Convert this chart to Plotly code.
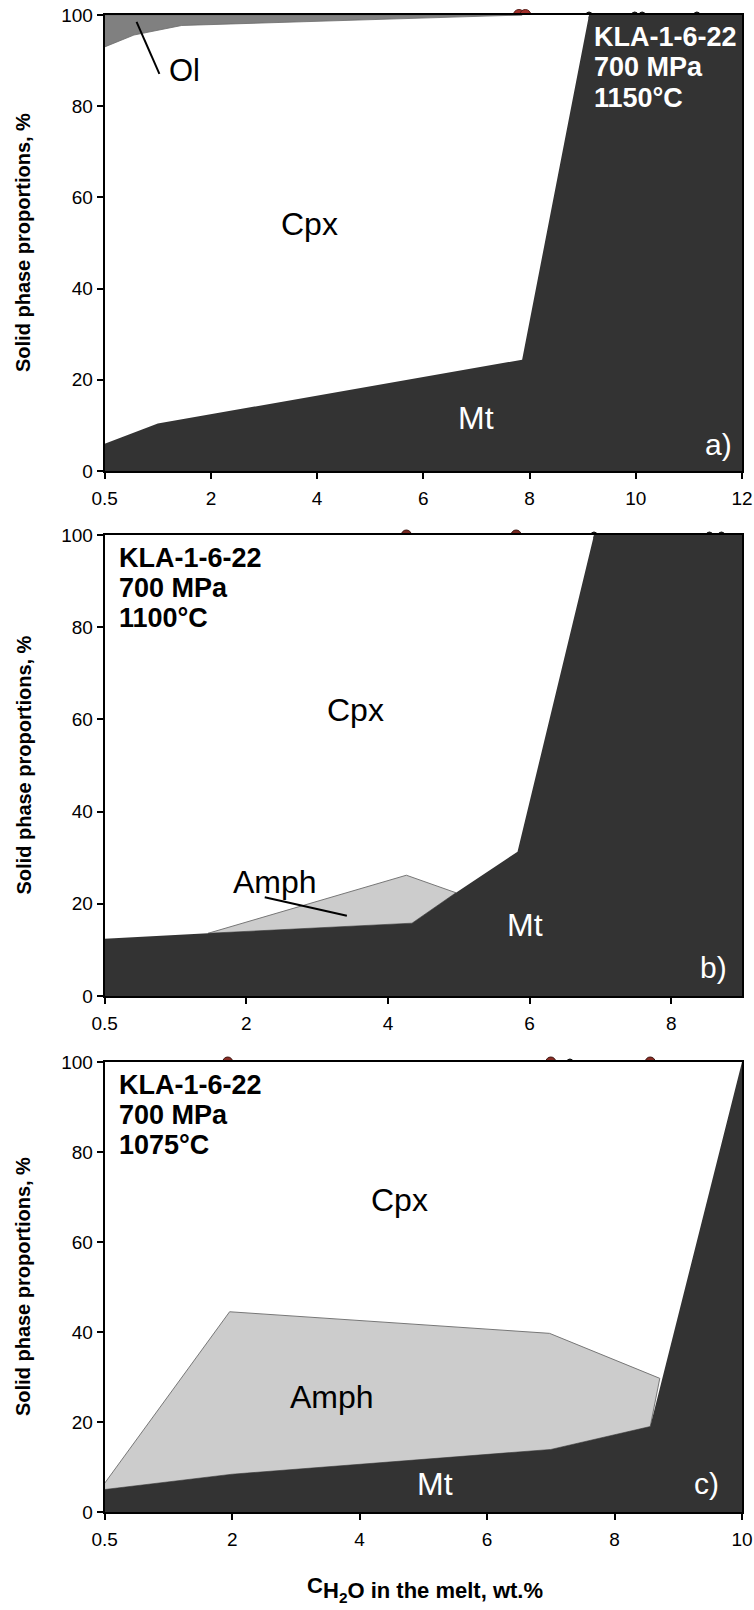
import plotly.graph_objects as go

# ---- water content axis (tick positions / labels) ----
a_ticks = [0, 2, 4, 6, 8, 10, 12]
a_ticktext = ["0.5", "2", "4", "6", "8", "10", "12"]
b_ticks = [0, 2, 4, 6, 8]
b_ticktext = ["0.5", "2", "4", "6", "8"]
c_ticks = [0, 2, 4, 6, 8, 10]
c_ticktext = ["0.5", "2", "4", "6", "8", "10"]
y_ticks = [0, 20, 40, 60, 80, 100]

# ---- panel a: 1150 °C ----
a_mt_x = [0, 1.0, 7.86, 9.12, 12]
a_mt_y = [6.0, 10.4, 24.4, 100, 100]
a_ol_x = [0, 0.55, 1.45, 7.86]
a_ol_y = [93.0, 95.6, 97.7, 100]
a_red_x = [7.80, 7.92]
a_blk_x = [9.12, 9.98, 10.12, 11.15]

# ---- panel b: 1100 °C ----
b_mt_x = [0, 1.46, 4.34, 4.96, 5.83, 6.91, 9]
b_mt_y = [12.4, 13.6, 15.8, 22.4, 31.3, 100, 100]
b_amph_x = [1.46, 4.26, 4.96]
b_amph_y = [13.6, 26.2, 22.4]
b_red_x = [4.26, 5.81]
b_blk_x = [6.91, 8.54, 8.71]

# ---- panel c: 1075 °C ----
c_mt_x = [0, 2.0, 7.0, 8.56, 10]
c_mt_y = [5.0, 8.4, 13.9, 19.0, 100]
c_amph_x = [0, 1.96, 6.98, 8.71]
c_amph_y = [6.4, 44.5, 39.7, 29.7]
c_red_x = [1.93, 7.0, 8.56]
c_blk_x = [7.3]

FONT = "Liberation Sans, Arial, Helvetica, sans-serif"
MT = "#333333"
AMPH = "#cccccc"
OL = "#808080"

W, H = 754, 1610
X0, X1 = 104.7, 742.0
panels = {
    "a": dict(top=15, bot=471, xmax=12, ticks=a_ticks, tt=a_ticktext),
    "b": dict(top=535, bot=996, xmax=9, ticks=b_ticks, tt=b_ticktext),
    "c": dict(top=1062, bot=1512, xmax=10, ticks=c_ticks, tt=c_ticktext),
}

fig = go.Figure()
layout = dict(
    width=W, height=H, margin=dict(l=0, r=0, t=0, b=0),
    paper_bgcolor="white", plot_bgcolor="white", showlegend=False,
    template="none", font=dict(family=FONT, color="black"),
)
annotations = []

for i, (key, p) in enumerate(panels.items(), start=1):
    sfx = "" if i == 1 else str(i)
    layout["xaxis" + sfx] = dict(
        domain=[X0 / W, X1 / W], anchor="y" + sfx, range=[0, p["xmax"]],
        tickvals=p["ticks"], ticktext=p["tt"], ticks="outside", ticklen=6,
        tickwidth=1.5, tickcolor="black", linewidth=2, linecolor="black",
        mirror=True, showgrid=False, zeroline=False, automargin=False,
        tickfont=dict(size=19, family=FONT), ticklabelstandoff=3,
    )
    layout["yaxis" + sfx] = dict(
        domain=[1 - p["bot"] / H, 1 - p["top"] / H], anchor="x" + sfx,
        range=[0, 100], tickvals=y_ticks, ticks="outside", ticklen=6,
        tickwidth=1.5, tickcolor="black", linewidth=2, linecolor="black",
        mirror=True, showgrid=False, zeroline=False, automargin=False,
        tickfont=dict(size=19, family=FONT),
    )
    annotations.append(dict(
        xref="paper", yref="paper", x=23 / W,
        y=1 - (p["top"] + p["bot"]) / 2 / H, text="<b>Solid phase proportions, %</b>",
        textangle=-90, showarrow=False, font=dict(size=20, family=FONT),
        xanchor="center", yanchor="middle",
    ))


def add(trace, i):
    sfx = "" if i == 1 else str(i)
    trace.update(xaxis="x" + sfx, yaxis="y" + sfx)
    fig.add_trace(trace)


def markers(xs, i, color, size, line):
    add(go.Scatter(x=xs, y=[100] * len(xs), mode="markers", cliponaxis=False,
                   marker=dict(color=color, size=size, line=dict(color=line, width=1)),
                   hoverinfo="skip"), i)


def poly(xs, ys, i, color, line_color=None, line_width=0):
    add(go.Scatter(x=xs, y=ys, mode="lines", fill="toself", fillcolor=color,
                   line=dict(color=line_color or color, width=line_width),
                   hoverinfo="skip"), i)


def cpx_field(mx, my, xmax, i):
    # white Cpx field between the Mt boundary and the 100 % line
    poly(mx + [xmax, 0], my + [100, 100], i, "white")


# panel a
markers(a_red_x, 1, "#a3302b", 11, "#5a1a16")
markers(a_blk_x, 1, "#222222", 6, "#111111")
cpx_field(a_mt_x, a_mt_y, 12, 1)
poly(a_ol_x + [0], a_ol_y + [100], 1, OL, "#6a6a6a", 0.8)
poly(a_mt_x + [12, 0], a_mt_y + [0, 0], 1, MT)

# panel b
markers(b_red_x, 2, "#7a2a22", 10, "#3a1410")
markers(b_blk_x, 2, "#222222", 6, "#111111")
cpx_field(b_mt_x, b_mt_y, 9, 2)
poly(b_amph_x + [4.34, 1.46], b_amph_y + [15.8, 13.6], 2, AMPH, "#777777", 1)
poly(b_mt_x + [9, 0], b_mt_y + [0, 0], 2, MT)

# panel c
markers(c_red_x, 3, "#8a2c24", 10, "#3a1410")
markers(c_blk_x, 3, "#222222", 6, "#111111")
cpx_field(c_mt_x, c_mt_y, 10, 3)
poly(c_amph_x + [8.56, 7.0, 2.0, 0], c_amph_y + [19.0, 13.9, 8.4, 5.0], 3, AMPH, "#777777", 1)
poly(c_mt_x + [10, 0], c_mt_y + [0, 0], 3, MT)

# leader lines for small fields
add(go.Scatter(x=[0.60, 1.03], y=[98.5, 87.1], mode="lines",
               line=dict(color="black", width=2), hoverinfo="skip"), 1)
add(go.Scatter(x=[2.26, 3.42], y=[21.4, 17.4], mode="lines",
               line=dict(color="black", width=2), hoverinfo="skip"), 2)


def label(text, x, y, i, color="black", size=32, bold=False, anchor="center"):
    sfx = "" if i == 1 else str(i)
    annotations.append(dict(
        xref="x" + sfx, yref="y" + sfx, x=x, y=y,
        text=f"<b>{text}</b>" if bold else text, showarrow=False,
        font=dict(size=size, color=color, family=FONT),
        xanchor=anchor, yanchor="middle",
    ))


# sample / conditions blocks
for line, yv in zip(["KLA-1-6-22", "700 MPa", "1150°C"], [95.1, 88.5, 81.8]):
    label(line, 9.17, yv, 1, "white", 27, True, "left")
for line, yv in zip(["KLA-1-6-22", "700 MPa", "1100°C"], [95.1, 88.6, 82.0]):
    label(line, 0.17, yv, 2, "black", 27, True, "left")
for line, yv in zip(["KLA-1-6-22", "700 MPa", "1075°C"], [95.0, 88.3, 81.6]):
    label(line, 0.19, yv, 3, "black", 27, True, "left")

# phase field names and panel letters
label("Ol", 1.51, 87.9, 1, size=31)
label("Cpx", 3.85, 54.2, 1)
label("Mt", 7.0, 11.7, 1, "white")
label("a)", 11.56, 5.9, 1, "white", 30)

label("Cpx", 3.54, 62.0, 2)
label("Amph", 2.41, 24.8, 2)
label("Mt", 5.93, 15.3, 2, "white")
label("b)", 8.6, 6.1, 2, "white", 30)

label("Cpx", 4.62, 69.3, 3)
label("Amph", 3.56, 25.6, 3)
label("Mt", 5.19, 6.2, 3, "white")
label("c)", 9.45, 6.4, 3, "white", 30)

# x-axis title: "C" raised, "H2O" set lower as its subscript
annotations.append(dict(
    xref="paper", yref="paper", x=305.4 / W, y=1 - 1585 / H,
    text="<b>C</b>", showarrow=False, font=dict(size=22, family=FONT),
    xanchor="left", yanchor="middle",
))
annotations.append(dict(
    xref="paper", yref="paper", x=321.3 / W, y=1 - 1592 / H,
    text="<b>H<sub>2</sub>O in the melt, wt.%</b>", showarrow=False,
    font=dict(size=22, family=FONT), xanchor="left", yanchor="middle",
))

layout["annotations"] = annotations
fig.update_layout(**layout)
fig.write_html("out.html")
